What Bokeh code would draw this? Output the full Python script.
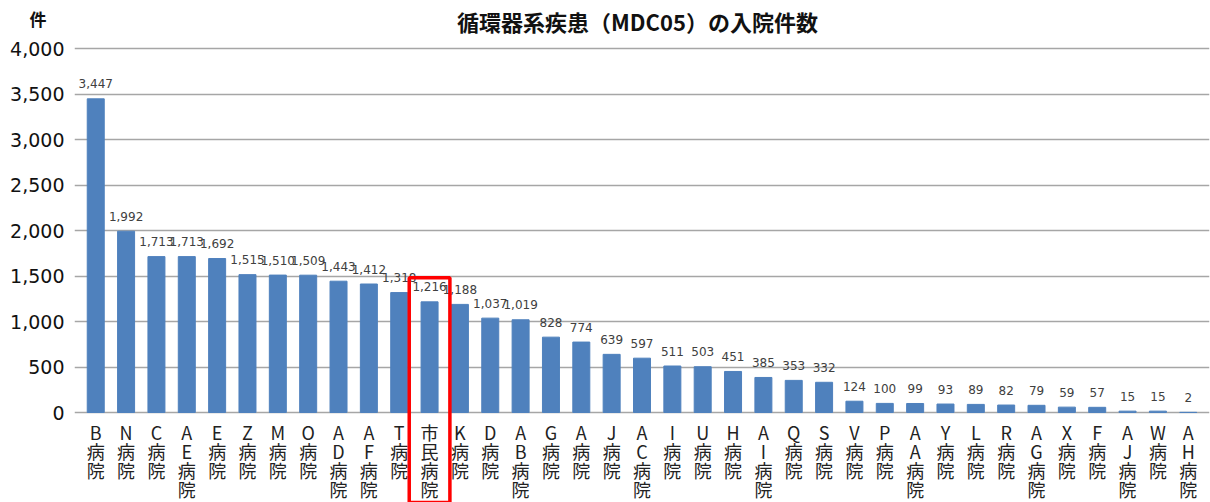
from bokeh.plotting import figure
from bokeh.layouts import column
from bokeh.models import FactorRange, Range1d, FixedTicker, ColumnDataSource, NumeralTickFormatter
from bokeh.core.properties import value
from bokeh.embed import file_html
from bokeh.resources import INLINE

# ---- data ----
hospitals = ["B病院", "N病院", "C病院", "AE病院", "E病院", "Z病院", "M病院", "O病院",
             "AD病院", "AF病院", "T病院", "市民病院", "K病院", "D病院", "AB病院", "G病院",
             "A病院", "J病院", "AC病院", "I病院", "U病院", "H病院", "AI病院", "Q病院",
             "S病院", "V病院", "P病院", "AA病院", "Y病院", "L病院", "R病院", "AG病院",
             "X病院", "F病院", "AJ病院", "W病院", "AH病院"]
admissions = [3447, 1992, 1713, 1713, 1692, 1515, 1510, 1509, 1443, 1412, 1318, 1216,
              1188, 1037, 1019, 828, 774, 639, 597, 511, 503, 451, 385, 353, 332, 124,
              100, 99, 93, 89, 82, 79, 59, 57, 15, 15, 2]
y_ticks = [0, 500, 1000, 1500, 2000, 2500, 3000, 3500, 4000]
highlight = "市民病院"
title_text = "循環器系疾患（MDC05）の入院件数"
unit_text = "件"

FONT = "Noto Sans CJK JP"
NUMFONT = "DejaVu Sans"
BAR = "#4F81BD"
GRID = "#a6a6a6"
W = 1210
HEAD_H = 36
MAIN_H = 466
LEFT = 74

# ---- header strip: chart title and unit (unit shown as the strip's axis label) ----
head = figure(width=W, height=HEAD_H, output_backend="svg", toolbar_location=None,
              x_range=Range1d(LEFT, W - 1), y_range=Range1d(HEAD_H, 0),
              min_border_left=LEFT, min_border_right=1, min_border_top=0, min_border_bottom=0,
              title_location=None)
head.xaxis.visible = False
head.grid.visible = False
head.outline_line_color = None
head.yaxis.ticker = FixedTicker(ticks=[])
head.yaxis.axis_line_color = None
head.yaxis.major_tick_line_color = None
head.yaxis.minor_tick_line_color = None
head.yaxis.major_tick_out = 0
head.yaxis.major_tick_in = 0
head.yaxis.major_label_standoff = 0
head.yaxis.axis_label = unit_text
head.yaxis.axis_label_orientation = "horizontal"
head.yaxis.axis_label_standoff = 28
head.yaxis.axis_label_text_font = FONT
head.yaxis.axis_label_text_font_size = "17px"
head.yaxis.axis_label_text_font_style = "bold"
head.yaxis.axis_label_text_color = "#111111"
head.text(x=[637], y=[20], text=[title_text], text_align="center", text_baseline="middle",
          text_font=value(FONT), text_font_size="22px", text_font_style="bold",
          text_color="#111111")

# ---- main chart ----
source = ColumnDataSource(dict(
    name=hospitals,
    value=admissions,
    vlabel=[f"{v:,}" for v in admissions],
    clabel=["\n".join(list(n)) for n in hospitals],
    zero=[0] * len(hospitals),
))

p = figure(width=W, height=MAIN_H, output_backend="svg", toolbar_location=None,
           x_range=FactorRange(*hospitals, range_padding=0.2, range_padding_units="absolute"),
           y_range=Range1d(-989, 4022), title_location=None,
           min_border_left=LEFT, min_border_right=1, min_border_top=10, min_border_bottom=0)

p.outline_line_color = None
p.background_fill_color = "white"
p.border_fill_color = "white"

p.xaxis.visible = False
p.xgrid.visible = False

p.yaxis.ticker = FixedTicker(ticks=y_ticks)
p.yaxis.formatter = NumeralTickFormatter(format="0,0")
p.yaxis.axis_line_color = None
p.yaxis.major_tick_line_color = None
p.yaxis.minor_tick_line_color = None
p.yaxis.major_tick_out = 0
p.yaxis.major_tick_in = 0
p.yaxis.major_label_standoff = 10
p.yaxis.major_label_text_font = NUMFONT
p.yaxis.major_label_text_font_size = "19px"
p.yaxis.major_label_text_color = "#111111"

p.ygrid.ticker = FixedTicker(ticks=y_ticks)
p.ygrid.grid_line_color = GRID
p.ygrid.grid_line_width = 1.6

p.vbar(x="name", top="value", width=0.56, source=source, fill_color=BAR, line_color=BAR)

p.text(x="name", y="value", text="vlabel", source=source, text_align="center",
       text_baseline="middle", y_offset=-15, text_font=value(NUMFONT),
       text_font_size="12px", text_color="#404040")

p.text(x="name", y="zero", text="clabel", source=source, text_align="center",
       text_baseline="top", y_offset=6, text_font=value(FONT),
       text_font_size="18px", text_color="#222222", text_line_height=0.74)

# highlight frame around the city hospital
hl_top = admissions[hospitals.index(highlight)] + 265
p.vbar(x=[highlight], top=[hl_top], bottom=[-1300], width=1.34, fill_alpha=0,
       line_color="#ff0000", line_width=3.5)

layout = column(head, p, spacing=0)
open("out.html", "w").write(file_html(layout, INLINE))
